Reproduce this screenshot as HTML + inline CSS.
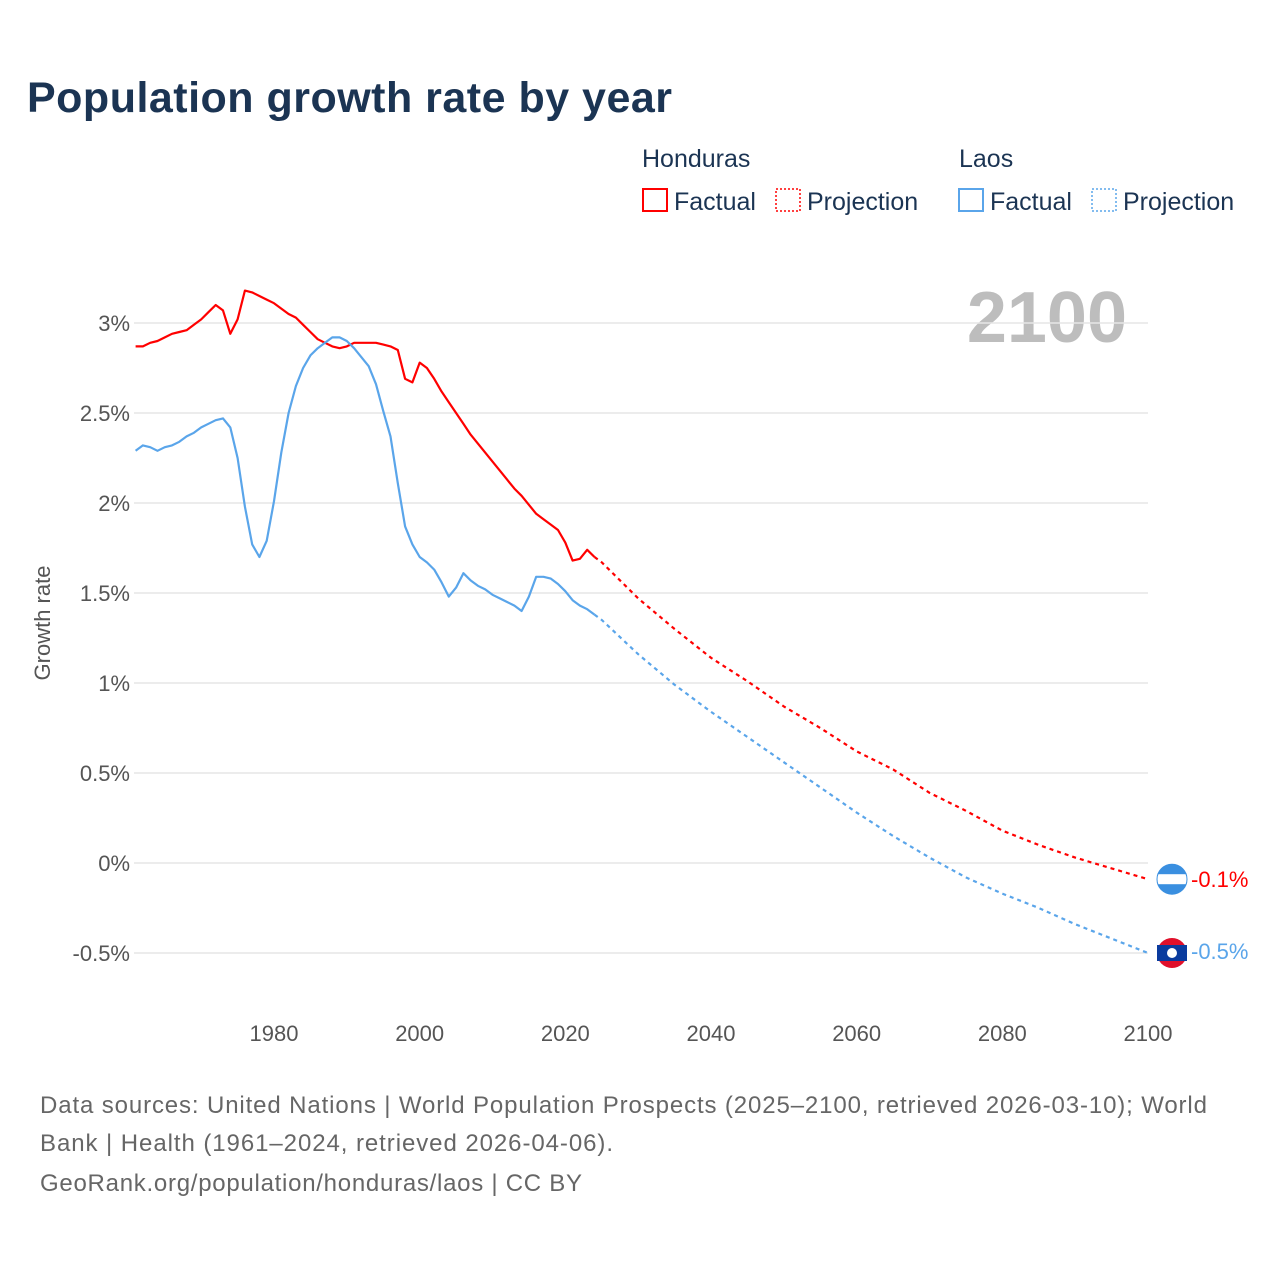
<!DOCTYPE html>
<html><head><meta charset="utf-8">
<style>
body{margin:0;background:#fff;font-family:"Liberation Sans",sans-serif;}
#wrap{position:relative;width:1280px;height:1280px;overflow:hidden;}
</style></head>
<body>
<div id="wrap">
<svg id="chart" width="1280" height="1280">
<text x="27" y="112" font-size="43" font-weight="bold" fill="#1b3453" textLength="645">Population growth rate by year</text>
<g font-size="25" fill="#1b3453">
<text x="642" y="167">Honduras</text>
<text x="959" y="167">Laos</text>
<g><rect x="643" y="189" width="24" height="22" fill="none" stroke="#f00" stroke-width="2"/><text x="674" y="210">Factual</text></g>
<g><rect x="776" y="189" width="24" height="22" fill="none" stroke="#f00" stroke-width="1.5" stroke-dasharray="2,2"/><text x="807" y="210">Projection</text></g>
<g><rect x="959" y="189" width="24" height="22" fill="none" stroke="#5aa5ea" stroke-width="2"/><text x="990" y="210">Factual</text></g>
<g><rect x="1092" y="189" width="24" height="22" fill="none" stroke="#5aa5ea" stroke-width="1.5" stroke-dasharray="2,2"/><text x="1123" y="210">Projection</text></g>
</g>
<text x="1127" y="342" font-size="72" font-weight="bold" fill="#bdbdbd" text-anchor="end">2100</text>
<g id="grid"></g>
<g id="yticks" font-size="22" fill="#555" text-anchor="end"></g>
<g id="xticks" font-size="22" fill="#555" text-anchor="middle"></g>
<text transform="translate(50,623) rotate(-90)" font-size="22" fill="#555" text-anchor="middle">Growth rate</text>
<g id="series"></g>
<g font-size="24" fill="#666">
<text x="40" y="1113" textLength="1167">Data sources: United Nations | World Population Prospects (2025–2100, retrieved 2026-03-10); World</text>
<text x="40" y="1151" textLength="573">Bank | Health (1961–2024, retrieved 2026-04-06).</text>
<text x="40" y="1191" textLength="542">GeoRank.org/population/honduras/laos | CC BY</text>
</g>
</svg>
</div>
<script>
const hondurasFactual=[2.87,2.87,2.89,2.90,2.92,2.94,2.95,2.96,2.99,3.02,3.06,3.10,3.07,2.94,3.02,3.18,3.17,3.15,3.13,3.11,3.08,3.05,3.03,2.99,2.95,2.91,2.89,2.87,2.86,2.87,2.89,2.89,2.89,2.89,2.88,2.87,2.85,2.69,2.67,2.78,2.75,2.69,2.62,2.56,2.50,2.44,2.38,2.33,2.28,2.23,2.18,2.13,2.08,2.04,1.99,1.94,1.91,1.88,1.85,1.78,1.68,1.69,1.74,1.70];
const laosFactual=[2.29,2.32,2.31,2.29,2.31,2.32,2.34,2.37,2.39,2.42,2.44,2.46,2.47,2.42,2.25,1.98,1.77,1.70,1.79,2.01,2.28,2.50,2.65,2.75,2.82,2.86,2.89,2.92,2.92,2.90,2.86,2.81,2.76,2.66,2.51,2.37,2.11,1.87,1.77,1.70,1.67,1.63,1.56,1.48,1.53,1.61,1.57,1.54,1.52,1.49,1.47,1.45,1.43,1.40,1.48,1.59,1.59,1.58,1.55,1.51,1.46,1.43,1.41,1.38];
const factualStart=1961;
const projYears=[2024,2025,2030,2035,2040,2045,2050,2055,2060,2065,2070,2075,2080,2085,2090,2095,2100];
const hondurasProj=[1.70,1.67,1.47,1.30,1.14,1.01,0.87,0.75,0.62,0.52,0.39,0.29,0.18,0.10,0.03,-0.03,-0.09];
const laosProj=[1.38,1.35,1.16,0.99,0.84,0.70,0.56,0.42,0.28,0.15,0.03,-0.08,-0.17,-0.25,-0.34,-0.42,-0.50];
const yTicks=[3,2.5,2,1.5,1,0.5,0,-0.5];
const yTickLabels=["3%","2.5%","2%","1.5%","1%","0.5%","0%","-0.5%"];
const xTicks=[1980,2000,2020,2040,2060,2080,2100];

const NS="http://www.w3.org/2000/svg";
const X=y=>274+(y-1980)*(874/120);
const Y=v=>863-v*180;
function mk(tag,attrs,parent){const e=document.createElementNS(NS,tag);for(const k in attrs)e.setAttribute(k,attrs[k]);parent.appendChild(e);return e;}
const grid=document.getElementById('grid'),yt=document.getElementById('yticks'),xt=document.getElementById('xticks'),ser=document.getElementById('series');
yTicks.forEach((v,i)=>{
  const l=mk('line',{x1:134,x2:1148,y1:Y(v),y2:Y(v),stroke:'#e6e6e6','stroke-width':1.5},grid);
  
  
  const t=mk('text',{x:130,y:Y(v)+8},yt);t.textContent=yTickLabels[i];
  
  
});
xTicks.forEach(v=>{
  const t=mk('text',{x:X(v),y:1041},xt);t.textContent=v;
  
  
});
function line(years,vals,color,dash,name){
  const d=vals.map((v,i)=>(i?'L':'M')+X(years[i]).toFixed(1)+','+Y(v).toFixed(1)).join('');
  const p=mk('path',{d:d,fill:'none',stroke:color,'stroke-width':2.2,'stroke-linejoin':'round'},ser);
  if(dash)p.setAttribute('stroke-dasharray','4,4');
  
  
}
line(hondurasFactual.map((_,i)=>factualStart+i),hondurasFactual,'#f00',false,'honduras-factual-line');
line(laosFactual.map((_,i)=>factualStart+i),laosFactual,'#5aa5ea',false,'laos-factual-line');
line(projYears,hondurasProj,'#f00',true,'honduras-projection-line');
line(projYears,laosProj,'#5aa5ea',true,'laos-projection-line');
const hv=hondurasProj[hondurasProj.length-1], lv=laosProj[laosProj.length-1];
const hy=Y(hv), ly=Y(lv);
const hg=mk('g',{},ser);


mk('circle',{cx:1172,cy:hy,r:15,fill:'#3a8fe0'},hg);
mk('rect',{x:1157,y:hy-5,width:30,height:10,fill:'#fff'},hg);
mk('circle',{cx:1172,cy:hy,r:15,fill:'none',stroke:'#3a8fe0','stroke-width':1},hg);
const ht=mk('text',{x:1191,y:hy+8,'font-size':22,fill:'#f00'},ser);ht.textContent=hv.toFixed(1)+'%';


const lg=mk('g',{},ser);


mk('circle',{cx:1172,cy:ly,r:15,fill:'#e0102b'},lg);
mk('rect',{x:1157,y:ly-8,width:30,height:16,fill:'#0a3b9e'},lg);
mk('circle',{cx:1172,cy:ly,r:5,fill:'#fff'},lg);
const lt=mk('text',{x:1191,y:ly+6,'font-size':22,fill:'#5aa5ea'},ser);lt.textContent=lv.toFixed(1)+'%';


</script>
</body></html>
